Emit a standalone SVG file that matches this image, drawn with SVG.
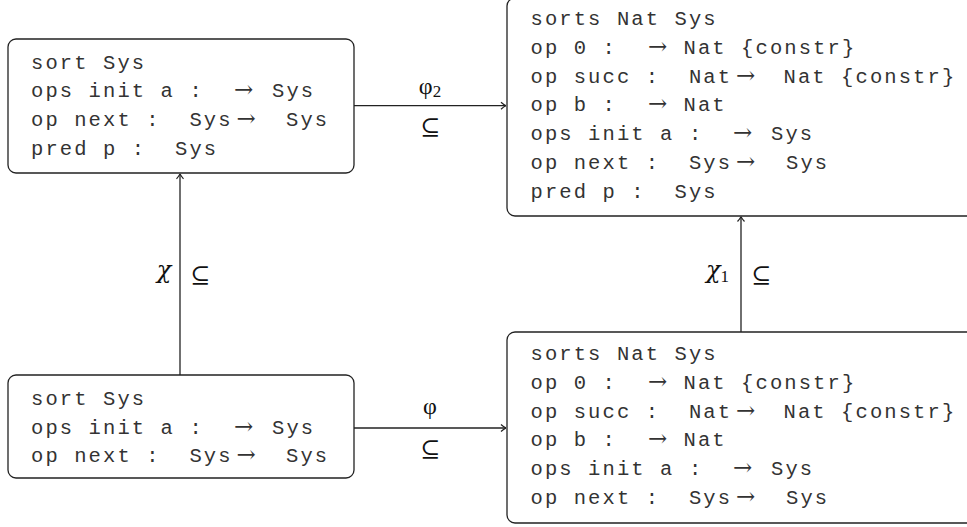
<svg xmlns="http://www.w3.org/2000/svg" width="967" height="527" viewBox="0 0 967 527">
<style>
.box{fill:#fff;stroke:#222;stroke-width:1.3}
.t{font-family:"Liberation Mono",monospace;font-size:20.5px;letter-spacing:2.1px;fill:#333;white-space:pre}
.ar{font-family:"DejaVu Serif","Liberation Serif",serif;font-size:23px;letter-spacing:0}
.lbl{font-family:"Liberation Serif","DejaVu Serif",serif;font-size:24px;fill:#111}
.chi{font-family:"DejaVu Serif","Liberation Serif",serif;font-size:24px;font-style:italic;fill:#111}
.sub{font-family:"Liberation Serif",serif;font-size:17px;font-style:normal}
.edge{fill:none;stroke:#222;stroke-width:1.3}
</style>
<defs>
<marker id="ah" viewBox="0 0 10 10" refX="10" refY="5" markerWidth="10" markerHeight="10" markerUnits="userSpaceOnUse" orient="auto">
<path d="M5,1.5 Q8,4.2 10,5 Q8,5.8 5,8.5" fill="none" stroke="#222" stroke-width="1.2"/>
</marker>
</defs>

<g id="connectors">
<line class="edge" x1="354" y1="105.7" x2="506" y2="105.7" marker-end="url(#ah)"/>
<line class="edge" x1="354" y1="428" x2="506" y2="428" marker-end="url(#ah)"/>
<line class="edge" x1="180" y1="375" x2="180" y2="173.8" marker-end="url(#ah)"/>
<line class="edge" x1="741" y1="332" x2="741" y2="216.5" marker-end="url(#ah)"/>
<text class="lbl" x="430" y="94" text-anchor="middle">φ<tspan class="sub" dy="3">2</tspan></text>
<text class="lbl" x="430" y="135" text-anchor="middle">⊆</text>
<text class="lbl" x="430" y="414" text-anchor="middle">φ</text>
<text class="lbl" x="430" y="457" text-anchor="middle">⊆</text>
<text class="chi" x="164" y="278" text-anchor="middle">χ</text>
<text class="lbl" x="200" y="283" text-anchor="middle">⊆</text>
<text class="chi" x="706" y="278">χ<tspan class="sub" dy="4">1</tspan></text>
<text class="lbl" x="761" y="283" text-anchor="middle">⊆</text>
</g>

<g id="node-top-left">
<rect class="box" x="8" y="39" width="346" height="134" rx="8"/>
<text class="t" x="31" y="68.5">sort Sys</text>
<text class="t" x="31" y="97.3">ops init a :<tspan class="ar" x="234">→</tspan><tspan x="272">Sys</tspan></text>
<text class="t" x="31" y="126.1">op next :  Sys<tspan class="ar" x="236.5">→</tspan><tspan x="286">Sys</tspan></text>
<text class="t" x="31" y="154.9">pred p :  Sys</text>
</g>

<g id="node-top-right">
<rect class="box" x="507" y="-2" width="480" height="218" rx="8"/>
<text class="t" x="530.5" y="25">sorts Nat Sys</text>
<text class="t" x="530.5" y="53.8">op 0 :<tspan class="ar" x="648">→</tspan><tspan x="683.5">Nat {constr}</tspan></text>
<text class="t" x="530.5" y="82.6">op succ :  Nat<tspan class="ar" x="736">→</tspan><tspan x="783.5">Nat {constr}</tspan></text>
<text class="t" x="530.5" y="111.4">op b :<tspan class="ar" x="648">→</tspan><tspan x="683.5">Nat</tspan></text>
<text class="t" x="530.5" y="140.2">ops init a :<tspan class="ar" x="733">→</tspan><tspan x="771">Sys</tspan></text>
<text class="t" x="530.5" y="169">op next :  Sys<tspan class="ar" x="736">→</tspan><tspan x="786">Sys</tspan></text>
<text class="t" x="530.5" y="197.8">pred p :  Sys</text>
</g>

<g id="node-bottom-left">
<rect class="box" x="8" y="375" width="346" height="103" rx="8"/>
<text class="t" x="31" y="404.8">sort Sys</text>
<text class="t" x="31" y="433.6">ops init a :<tspan class="ar" x="234">→</tspan><tspan x="272">Sys</tspan></text>
<text class="t" x="31" y="462.4">op next :  Sys<tspan class="ar" x="236.5">→</tspan><tspan x="286">Sys</tspan></text>
</g>

<g id="node-bottom-right">
<rect class="box" x="507" y="332" width="480" height="191" rx="8"/>
<text class="t" x="530.5" y="360">sorts Nat Sys</text>
<text class="t" x="530.5" y="388.8">op 0 :<tspan class="ar" x="648">→</tspan><tspan x="683.5">Nat {constr}</tspan></text>
<text class="t" x="530.5" y="417.6">op succ :  Nat<tspan class="ar" x="736">→</tspan><tspan x="783.5">Nat {constr}</tspan></text>
<text class="t" x="530.5" y="446.4">op b :<tspan class="ar" x="648">→</tspan><tspan x="683.5">Nat</tspan></text>
<text class="t" x="530.5" y="475.2">ops init a :<tspan class="ar" x="733">→</tspan><tspan x="771">Sys</tspan></text>
<text class="t" x="530.5" y="504">op next :  Sys<tspan class="ar" x="736">→</tspan><tspan x="786">Sys</tspan></text>
</g>
</svg>
